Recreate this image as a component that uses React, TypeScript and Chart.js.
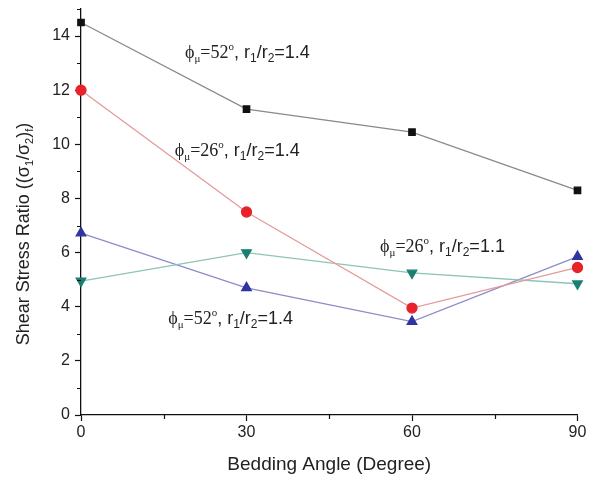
import React, { useEffect, useRef } from 'react';
import { Chart, registerables } from 'chart.js';

Chart.register(...registerables);

// ---- data ----
const angles = [0, 30, 60, 90];
const phi52r14Upper = [14.5, 11.3, 10.45, 8.3];
const phi26r14 = [12.0, 7.5, 3.95, 5.45];
const phi26r11 = [4.95, 6.0, 5.25, 4.85];
const phi52r14Lower = [6.72, 4.7, 3.45, 5.85];

const xTicks = [0, 30, 60, 90];
const xMinorTicks = [15, 45, 75];
const yTicks = [0, 2, 4, 6, 8, 10, 12, 14];
const yMinorTicks = [1, 3, 5, 7, 9, 11, 13, 15];

const xTitle = 'Bedding Angle (Degree)';

// annotation labels (anchored in data coordinates)
const labelPhi = ['52', '26', '26', '52'];
const labelRatio = ['1.4', '1.4', '1.1', '1.4'];
const labelX = [18.85, 17.0, 54.2, 15.8];
const labelY = [13.19, 9.57, 6.02, 3.36];

const SANS = '"Liberation Sans", Arial, sans-serif';
const SERIF = '"Liberation Serif", "Times New Roman", serif';

type Part = { text: string; font: string; dy?: number };

function measureRich(ctx: CanvasRenderingContext2D, parts: Part[]) {
  let w = 0;
  for (const p of parts) {
    ctx.font = p.font;
    w += ctx.measureText(p.text).width;
  }
  return w;
}

function drawRich(ctx: CanvasRenderingContext2D, x: number, y: number, parts: Part[]) {
  let cx = x;
  for (const p of parts) {
    ctx.font = p.font;
    ctx.fillText(p.text, cx, y + (p.dy || 0));
    cx += ctx.measureText(p.text).width;
  }
}

const decorPlugin = {
  id: 'decor',
  afterDraw(chart: any) {
    const { ctx, chartArea } = chart;
    const xs = chart.scales.x;
    const ys = chart.scales.y;
    ctx.save();
    // minor ticks
    ctx.strokeStyle = '#111';
    ctx.lineWidth = 1.2;
    ctx.beginPath();
    for (const v of yMinorTicks) {
      const py = Math.round(ys.getPixelForValue(v)) + 0.5;
      ctx.moveTo(chartArea.left - 4, py);
      ctx.lineTo(chartArea.left, py);
    }
    for (const v of xMinorTicks) {
      const px = Math.round(xs.getPixelForValue(v)) + 0.5;
      ctx.moveTo(px, chartArea.bottom);
      ctx.lineTo(px, chartArea.bottom + 4);
    }
    ctx.stroke();

    // annotations
    ctx.fillStyle = '#222';
    ctx.textAlign = 'left';
    ctx.textBaseline = 'alphabetic';
    for (let i = 0; i < labelPhi.length; i++) {
      const px = xs.getPixelForValue(labelX[i]);
      const py = ys.getPixelForValue(labelY[i]);
      drawRich(ctx, px, py, [
        { text: 'ϕ', font: `18px ${SERIF}` },
        { text: 'μ', font: `11px ${SERIF}`, dy: 4 },
        { text: '=' + labelPhi[i], font: `18px ${SERIF}` },
        { text: 'o', font: `11px ${SERIF}`, dy: -8 },
        { text: ', r', font: `18px ${SANS}` },
        { text: '1', font: `12px ${SANS}`, dy: 4 },
        { text: '/r', font: `18px ${SANS}` },
        { text: '2', font: `12px ${SANS}`, dy: 4 },
        { text: '=' + labelRatio[i], font: `18px ${SANS}` },
      ]);
    }

    // y axis title with subscripts
    const yParts: Part[] = [
      { text: 'Shear Stress Ratio ((σ', font: `18px ${SANS}` },
      { text: '1', font: `11px ${SANS}`, dy: 4 },
      { text: '/σ', font: `18px ${SANS}` },
      { text: '2', font: `11px ${SANS}`, dy: 4 },
      { text: ')', font: `18px ${SANS}` },
      { text: 'f', font: `11px ${SANS}`, dy: 4 },
      { text: ')', font: `18px ${SANS}` },
    ];
    const w = measureRich(ctx, yParts);
    ctx.translate(24, 234);
    ctx.rotate(-Math.PI / 2);
    ctx.fillStyle = '#222';
    drawRich(ctx, -w / 2, 5, yParts);
    ctx.restore();
  },
};

export default function App() {
  const ref = useRef<HTMLCanvasElement | null>(null);

  useEffect(() => {
    if (!ref.current) return;
    const mk = (vals: number[]) => angles.map((a, i) => ({ x: a, y: vals[i] }));
    const chart = new Chart(ref.current, {
      type: 'line',
      data: {
        datasets: [
          {
            data: mk(phi52r14Upper),
            borderColor: '#8a8a8a',
            backgroundColor: '#111111',
            pointBackgroundColor: '#111111',
            pointBorderColor: '#111111',
            pointStyle: 'rect',
            pointRadius: 4.5,
            borderWidth: 1.3,
            clip: false,
          },
          {
            data: mk(phi26r14),
            borderColor: '#e59a9a',
            backgroundColor: '#e8222a',
            pointBackgroundColor: '#e8222a',
            pointBorderColor: '#e8222a',
            pointStyle: 'circle',
            pointRadius: 5,
            borderWidth: 1.3,
            clip: false,
          },
          {
            data: mk(phi26r11),
            borderColor: '#8cc4b6',
            backgroundColor: '#1b7f70',
            pointBackgroundColor: '#1b7f70',
            pointBorderColor: '#1b7f70',
            pointStyle: 'triangle',
            pointRotation: 180,
            pointRadius: 5.5,
            borderWidth: 1.3,
            clip: false,
          },
          {
            data: mk(phi52r14Lower),
            borderColor: '#8c8cc8',
            backgroundColor: '#2f35a0',
            pointBackgroundColor: '#2f35a0',
            pointBorderColor: '#2f35a0',
            pointStyle: 'triangle',
            pointRadius: 5.5,
            borderWidth: 1.3,
            clip: false,
          },
        ],
      },
      options: {
        responsive: false,
        animation: false,
        layout: { padding: { top: 9, right: 13.5, left: 0, bottom: 0 } },
        plugins: {
          legend: { display: false },
          tooltip: { enabled: false },
          title: { display: false },
        },
        scales: {
          x: {
            type: 'linear',
            min: 0,
            max: 90,
            afterBuildTicks: (s: any) => {
              s.ticks = xTicks.map((v) => ({ value: v }));
            },
            afterFit: (s: any) => {
              s.height = 66;
              s.paddingLeft = 0;
              s.paddingRight = 0;
            },
            ticks: {
              font: { family: SANS, size: 16 },
              color: '#222',
              padding: 2,
              maxRotation: 0,
              autoSkip: false,
            },
            grid: {
              drawOnChartArea: false,
              drawTicks: true,
              tickLength: 6,
              tickColor: '#111',
              tickWidth: 1.2,
            },
            border: { color: '#111', width: 1.3 },
            title: {
              display: true,
              text: xTitle,
              font: { family: SANS, size: 19 },
              color: '#222',
              padding: { top: 4, bottom: 5 },
            },
          },
          y: {
            type: 'linear',
            min: 0,
            max: 15,
            afterBuildTicks: (s: any) => {
              s.ticks = yTicks.map((v) => ({ value: v }));
            },
            afterFit: (s: any) => {
              s.width = 81;
              s.paddingTop = 0;
              s.paddingBottom = 0;
            },
            ticks: {
              font: { family: SANS, size: 16 },
              color: '#222',
              padding: 5,
              autoSkip: false,
            },
            grid: {
              drawOnChartArea: false,
              drawTicks: true,
              tickLength: 6,
              tickColor: '#111',
              tickWidth: 1.2,
            },
            border: { color: '#111', width: 1.3 },
            title: { display: false },
          },
        },
      },
      plugins: [decorPlugin],
    } as any);
    return () => chart.destroy();
  }, []);

  return (
    <div style={{ position: 'fixed', left: 0, top: 0, width: 591, height: 481, background: '#fff' }}>
      <canvas ref={ref} width={591} height={481} style={{ display: 'block' }} />
    </div>
  );
}
